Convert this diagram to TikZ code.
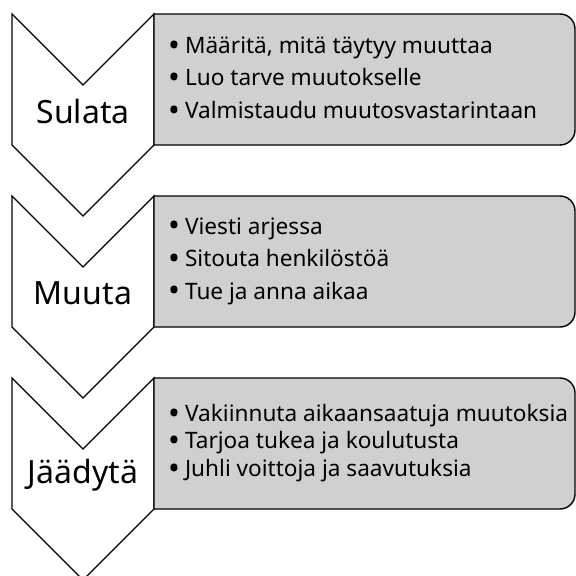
\documentclass[tikz,border=0pt]{standalone}
\usepackage{fontspec}
\usepackage{graphicx}
\setmainfont{Noto Sans}
\definecolor{boxgray}{RGB}{208,208,208}
\tikzset{
  chev/.style={draw=black, fill=white, line width=1.2pt, line join=miter},
  panel/.style={draw=black, fill=boxgray, line width=1.4pt},
  chevlabel/.style={font=\fontsize{32}{38}\selectfont, inner sep=0pt},
  bullets/.style={font=\fontsize{22.6}{32.5}\selectfont, inner sep=0pt, anchor=west, align=left},
}
\newcommand{\bul}{\raisebox{-0.12em}{\scalebox{1.4}{•}}\hspace{0.22em}}
\newcommand{\chevron}[2]{% name, top y
  \draw[chev] (12,-#2) -- (83,-#2-71) -- (154,-#2) -- (154,-#2-131) -- (83,-#2-202) -- (12,-#2-131) -- cycle;
}
\newcommand{\panel}[2]{% top y, bottom y
  \draw[panel] (154,-#1) -- (560,-#1) arc[start angle=90, end angle=0, radius=15] -- (575,-#2+15) arc[start angle=0, end angle=-90, radius=15] -- (154,-#2) -- cycle;
}
\begin{document}
\begin{tikzpicture}[x=1pt,y=1pt]
\useasboundingbox (0,0) rectangle (576,-576);
\clip (0,0) rectangle (576,-576);
% chevrons
\chevron{c1}{14}
\chevron{c2}{196}
\chevron{c3}{378}
% panels
\panel{14}{145}
\panel{196}{327}
\panel{378}{509}
% labels
\node[chevlabel] (l1) at (83,-111) {Sulata};
\node[chevlabel] (l2) at (83,-293) {Muuta};
\node[chevlabel] (l3) at (83,-475) {Jäädytä};
% bullet texts
\node[bullets] (t1) at (168,-79) {\bul Määritä, mitä täytyy muuttaa\\\bul Luo tarve muutokselle\\\bul Valmistaudu muutosvastarintaan};
\node[bullets] (t2) at (168,-261) {\bul Viesti arjessa\\\bul Sitouta henkilöstöä\\\bul Tue ja anna aikaa};
\node[bullets, font=\fontsize{22.6}{27.5}\selectfont] (t3) at (168,-443) {\bul Vakiinnuta aikaansaatuja muutoksia\\\bul Tarjoa tukea ja koulutusta\\\bul Juhli voittoja ja saavutuksia};
\end{tikzpicture}
\end{document}
